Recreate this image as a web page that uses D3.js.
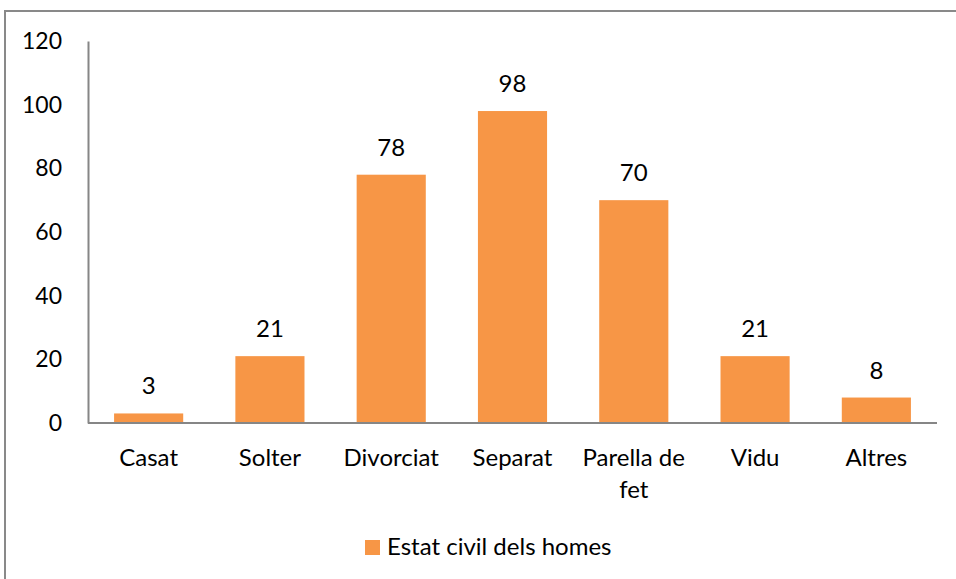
<!DOCTYPE html>
<html>
<head>
<meta charset="utf-8">
<script src="https://cdn.jsdelivr.net/npm/d3@7"></script>
<style>
  html, body { margin: 0; padding: 0; background: #fff; }
  svg { display: block; }
  text { font-family: Lato, "Open Sans", sans-serif; fill: #000; }
</style>
</head>
<body>
<svg id="chart" width="956" height="579"></svg>
<script>
const categories = ["Casat", "Solter", "Divorciat", "Separat", "Parella de fet", "Vidu", "Altres"];
const categoryLines = [["Casat"], ["Solter"], ["Divorciat"], ["Separat"], ["Parella de", "fet"], ["Vidu"], ["Altres"]];
const values = [3, 21, 78, 98, 70, 21, 8];
const yTicks = [0, 20, 40, 60, 80, 100, 120];
const seriesName = "Estat civil dels homes";

const svg = d3.select("#chart");
const W = 956, H = 579;
const plot = { left: 88, right: 937, top: 41, bottom: 423 };
const barColor = "#F79646";
const axisColor = "#868686";
const fontSize = 24;

// outer border (clipped at right/bottom like the reference)
svg.append("rect")
  .attr("x", 5).attr("y", 11)
  .attr("width", 980).attr("height", 600)
  .attr("fill", "#fff")
  .attr("stroke", "#898989").attr("stroke-width", 2);

const x = d3.scaleBand().domain(categories).range([plot.left, plot.right]).paddingInner(0.43).paddingOuter(0.215);
const y = d3.scaleLinear().domain([0, 120]).range([plot.bottom, plot.top]);

// bars
svg.append("g").selectAll("rect")
  .data(values)
  .join("rect")
  .attr("x", (d, i) => x(categories[i]))
  .attr("y", d => y(d))
  .attr("width", x.bandwidth())
  .attr("height", d => y(0) - y(d))
  .attr("fill", barColor);

// y axis
const yAxis = d3.axisLeft(y).tickValues(yTicks).tickSize(0).tickPadding(26).tickFormat(d3.format("d"));
const gy = svg.append("g").attr("transform", `translate(${plot.left},0)`).call(yAxis);
gy.select(".domain").attr("stroke", axisColor).attr("stroke-width", 2);
gy.selectAll("text").attr("font-size", 23).attr("font-family", "Lato, sans-serif").attr("fill", "#000");

// x axis
const xAxis = d3.axisBottom(x).tickSize(0).tickFormat(() => "");
const gx = svg.append("g").attr("transform", `translate(0,${plot.bottom})`).call(xAxis);
gx.select(".domain").attr("stroke", axisColor).attr("stroke-width", 2)
  .attr("d", `M${plot.left},0H${plot.right}`);

// category labels
const cl = svg.append("g").selectAll("text")
  .data(categories)
  .join("text")
  .attr("x", d => x(d) + x.bandwidth() / 2)
  .attr("y", plot.bottom + 43)
  .attr("text-anchor", "middle")
  .attr("font-size", fontSize);
cl.each(function(d, i) {
  const t = d3.select(this);
  categoryLines[i].forEach((line, j) => {
    t.append("tspan").attr("x", x(d) + x.bandwidth() / 2).attr("dy", j === 0 ? 0 : 32).text(line);
  });
});

// value labels
svg.append("g").selectAll("text")
  .data(values)
  .join("text")
  .attr("x", (d, i) => x(categories[i]) + x.bandwidth() / 2)
  .attr("y", d => y(d) - 19)
  .attr("text-anchor", "middle")
  .attr("font-size", fontSize)
  .text(d => d);

// legend
const lg = svg.append("g");
lg.append("rect").attr("x", 365).attr("y", 540).attr("width", 15).attr("height", 15).attr("fill", barColor);
lg.append("text").attr("x", 387).attr("y", 555).attr("font-size", fontSize).text(seriesName);
</script>
</body>
</html>
